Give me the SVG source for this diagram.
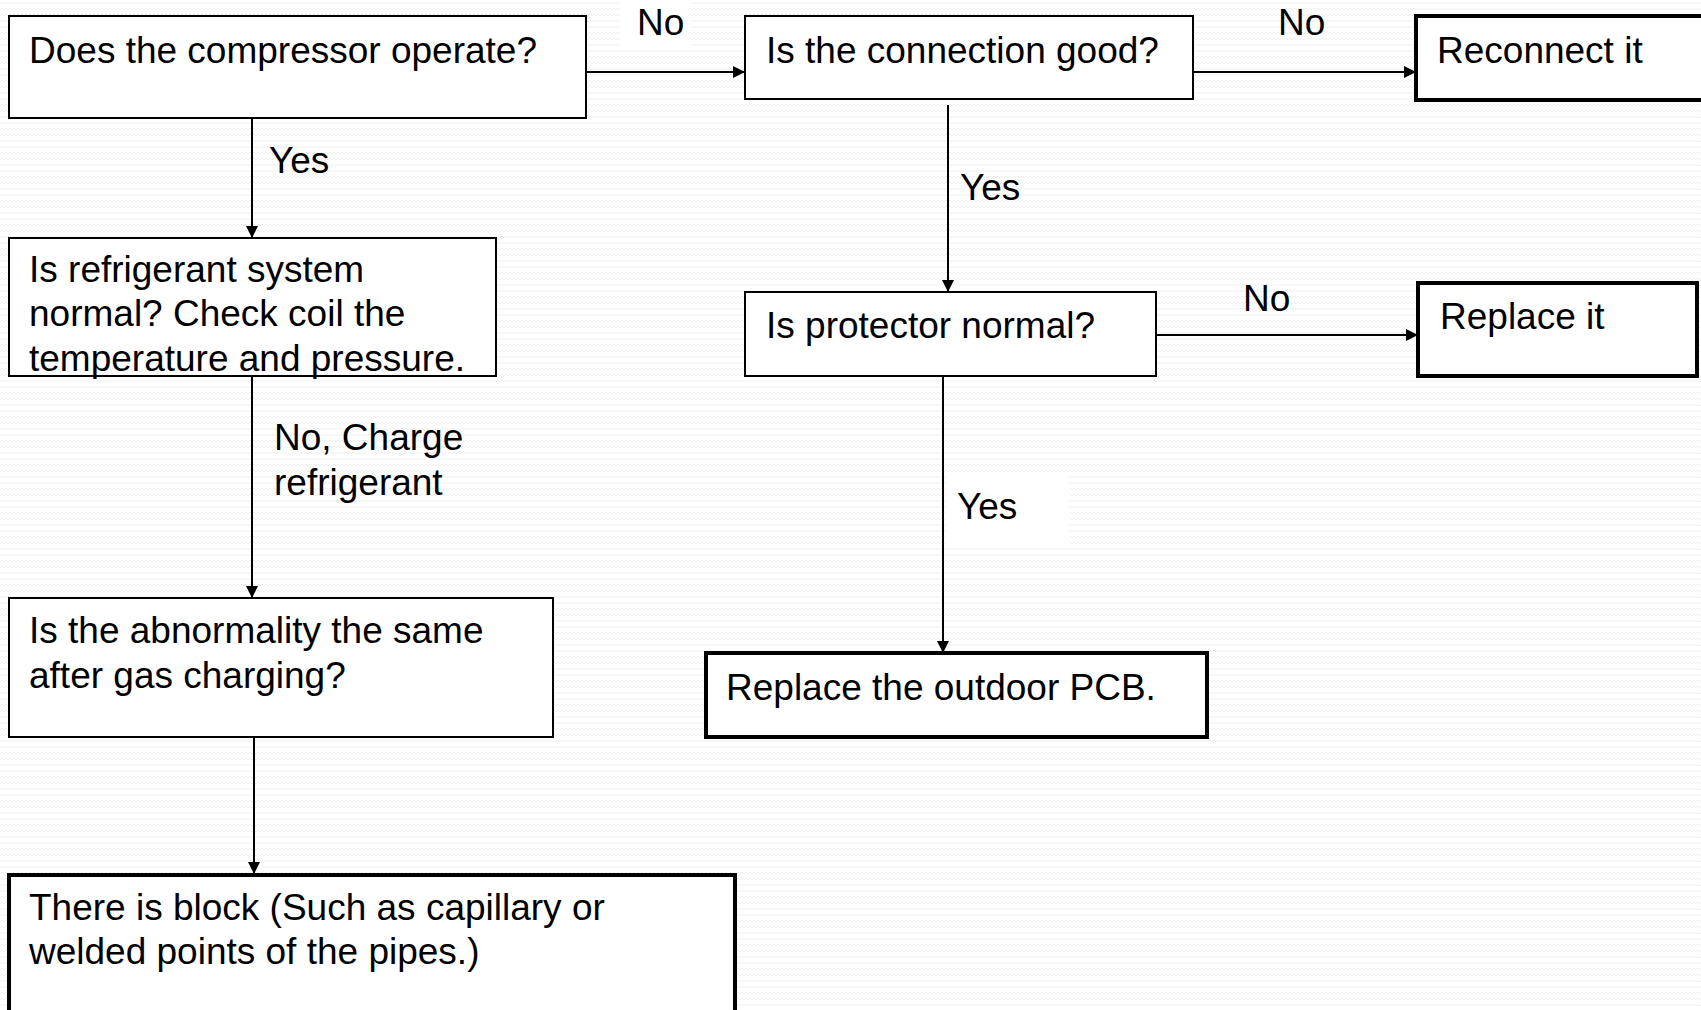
<svg xmlns="http://www.w3.org/2000/svg" width="1701" height="1010" viewBox="0 0 1701 1010">
  <defs>
    <!-- faint wavy paper texture -->
    <pattern id="paper" width="8" height="6" patternUnits="userSpaceOnUse">
      <path d="M0 4 L2 2 L4 4 L6 2 L8 4" fill="none" stroke="#ececec" stroke-width="0.8"/>
    </pattern>
    <marker id="arrow" viewBox="0 0 10 10" refX="10" refY="5" markerWidth="12" markerHeight="12" markerUnits="userSpaceOnUse" orient="auto">
      <path d="M0 0 L10 5 L0 10 Z" fill="#000"/>
    </marker>
  </defs>
  <style>
    .box { fill: #fff; stroke: #000; stroke-width: 2; }
    .end { fill: #fff; stroke: #000; stroke-width: 4; }
    .t { font-family: "Liberation Sans", Arial, sans-serif; font-size: 37px; fill: #000; }
    .conn { fill: none; stroke: #000; stroke-width: 2; marker-end: url(#arrow); }
    .lblbg { fill: #fff; }
  </style>

  <rect x="0" y="0" width="1701" height="1010" fill="#fff"/>
  <rect x="0" y="0" width="1701" height="1010" fill="url(#paper)"/>

  <g id="connectors">
    <line class="conn" x1="586" y1="72" x2="745" y2="72"/>
    <line class="conn" x1="1193" y1="72" x2="1416" y2="72"/>
    <line class="conn" x1="948" y1="105" x2="948" y2="292"/>
    <line class="conn" x1="1156" y1="335" x2="1418" y2="335"/>
    <line class="conn" x1="943" y1="376" x2="943" y2="653"/>
    <line class="conn" x1="252" y1="118" x2="252" y2="238"/>
    <line class="conn" x1="252" y1="376" x2="252" y2="598"/>
    <line class="conn" x1="254" y1="737" x2="254" y2="874"/>
  </g>

  <g id="labels">
    <rect class="lblbg" x="620" y="0" width="70" height="50"/>
    <text class="t" x="637" y="35">No</text>
    <text class="t" x="1278" y="35">No</text>
    <text class="t" x="960" y="200">Yes</text>
    <text class="t" x="1243" y="311">No</text>
    <rect class="lblbg" x="946" y="474" width="123" height="70"/>
    <text class="t" x="957" y="519">Yes</text>
    <text class="t" x="269" y="173">Yes</text>
    <text class="t" x="274" y="450">No, Charge</text>
    <text class="t" x="274" y="495">refrigerant</text>
  </g>

  <g id="compressor">
    <rect class="box" x="9" y="16" width="577" height="102"/>
    <text class="t" x="29" y="63">Does the compressor operate?</text>
  </g>

  <g id="connection">
    <rect class="box" x="745" y="16" width="448" height="83"/>
    <text class="t" x="766" y="63">Is the connection good?</text>
  </g>

  <g id="reconnect">
    <rect class="end" x="1416" y="16" width="300" height="84"/>
    <text class="t" x="1437" y="63">Reconnect it</text>
  </g>

  <g id="protector">
    <rect class="box" x="745" y="292" width="411" height="84"/>
    <text class="t" x="766" y="338">Is protector normal?</text>
  </g>

  <g id="replace">
    <rect class="end" x="1418" y="283" width="279" height="93"/>
    <text class="t" x="1440" y="329">Replace it</text>
  </g>

  <g id="refrigerant">
    <rect class="box" x="9" y="238" width="487" height="138"/>
    <text class="t" x="29" y="282">Is refrigerant system</text>
    <text class="t" x="29" y="326">normal? Check coil the</text>
    <text class="t" x="29" y="371">temperature and pressure.</text>
  </g>

  <g id="abnormality">
    <rect class="box" x="9" y="598" width="544" height="139"/>
    <text class="t" x="29" y="643">Is the abnormality the same</text>
    <text class="t" x="29" y="688">after gas charging?</text>
  </g>

  <g id="pcb">
    <rect class="end" x="706" y="653" width="501" height="84"/>
    <text class="t" x="726" y="700">Replace the outdoor PCB.</text>
  </g>

  <g id="block">
    <rect class="end" x="9" y="875" width="726" height="150"/>
    <text class="t" x="29" y="920">There is block (Such as capillary or</text>
    <text class="t" x="29" y="964">welded points of the pipes.)</text>
  </g>
</svg>
